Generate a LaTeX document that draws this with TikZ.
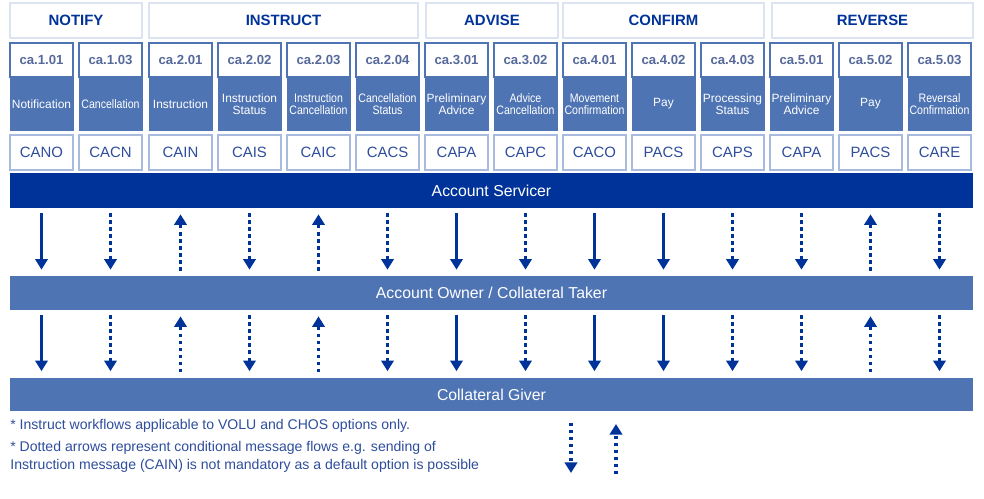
\documentclass[tikz,border=0pt]{standalone}
\usepackage{fontspec}
\setmainfont{Liberation Sans}
\newfontfamily\narrowfont[FakeStretch=0.86]{Liberation Sans}
\usetikzlibrary{positioning}
\usetikzlibrary{arrows.meta}
\definecolor{navy}{HTML}{003399}
\definecolor{midblue}{HTML}{4F74B4}
\definecolor{edgeblue}{HTML}{A8BBDF}
\definecolor{paleblue}{HTML}{DDE4F1}
\definecolor{slate}{HTML}{56699B}
\definecolor{inkblue}{HTML}{2E4D9C}
\tikzset{
    header/.style = {rectangle, draw=paleblue, line width=1pt, fill=white, minimum height=0.70cm, inner sep=0pt, text=navy, font=\fontsize{8.5}{10}\selectfont\bfseries},
    cabox/.style = {rectangle, draw=midblue, line width=0.8pt, fill=white, minimum width=1.26cm, minimum height=0.68cm, inner sep=0pt, text=slate, font=\fontsize{7.5}{9}\selectfont\bfseries},
    descbox/.style = {rectangle, draw=midblue, fill=midblue, minimum width=1.26cm, minimum height=1.04cm, inner sep=0pt, align=center, text=white, font=\fontsize{6.8}{7}\selectfont},
    narrowbox/.style = {descbox, font=\narrowfont\fontsize{7}{7}\selectfont},
    codebox/.style = {rectangle, draw=edgeblue, line width=1pt, fill=white, minimum width=1.26cm, minimum height=0.70cm, inner sep=0pt, text=inkblue, font=\fontsize{8.5}{10}\selectfont},
    bar/.style = {rectangle, minimum width=19.26cm, minimum height=0.68cm, inner sep=0pt, text=white, font=\fontsize{9}{11}\selectfont},
    flow/.style = {-{Triangle[width=7pt,length=6pt]}, line width=1.4pt, navy, shorten >=0.12cm, shorten <=0.1cm}, % mandatory
    cflow/.style = {flow, line width=1.8pt, dash pattern=on 1.8pt off 2.2pt}, % conditional
    note/.style = {anchor=west, inner sep=0pt, align=left, text=inkblue, font=\fontsize{8}{10.2}\selectfont}
}

\begin{document}
\begin{tikzpicture}[x=0.02cm, y=-0.02cm]
\useasboundingbox (0,0) rectangle (984,499);

% workflow headers
\node[header, minimum width=2.64cm] (notify)   at ( 76.0,20.5) {NOTIFY};
\node[header, minimum width=5.38cm] (instruct) at (283.5,20.5) {INSTRUCT};
\node[header, minimum width=2.64cm] (advise)   at (492.0,20.5) {ADVISE};
\node[header, minimum width=4.02cm] (confirm)  at (663.5,20.5) {CONFIRM};
\node[header, minimum width=4.02cm] (reverse)  at (872.5,20.5) {REVERSE};

% message columns
\node[cabox] (ca1) at ( 41.5,60) {ca.1.01};
\node[descbox, below=0pt of ca1] (d1) {Notification};
\node[codebox, below=0.08cm of d1] (c1) {CANO};
\node[cabox] (ca2) at (110.5,60) {ca.1.03};
\node[narrowbox, below=0pt of ca2] (d2) {Cancellation};
\node[codebox, below=0.08cm of d2] (c2) {CACN};
\node[cabox] (ca3) at (180.5,60) {ca.2.01};
\node[descbox, below=0pt of ca3] (d3) {Instruction};
\node[codebox, below=0.08cm of d3] (c3) {CAIN};
\node[cabox] (ca4) at (249.5,60) {ca.2.02};
\node[descbox, below=0pt of ca4] (d4) {Instruction\\Status};
\node[codebox, below=0.08cm of d4] (c4) {CAIS};
\node[cabox] (ca5) at (318.5,60) {ca.2.03};
\node[narrowbox, below=0pt of ca5] (d5) {Instruction\\Cancellation};
\node[codebox, below=0.08cm of d5] (c5) {CAIC};
\node[cabox] (ca6) at (387.5,60) {ca.2.04};
\node[narrowbox, below=0pt of ca6] (d6) {Cancellation\\Status};
\node[codebox, below=0.08cm of d6] (c6) {CACS};
\node[cabox] (ca7) at (456.5,60) {ca.3.01};
\node[descbox, below=0pt of ca7] (d7) {Preliminary\\Advice};
\node[codebox, below=0.08cm of d7] (c7) {CAPA};
\node[cabox] (ca8) at (525.5,60) {ca.3.02};
\node[narrowbox, below=0pt of ca8] (d8) {Advice\\Cancellation};
\node[codebox, below=0.08cm of d8] (c8) {CAPC};
\node[cabox] (ca9) at (594.5,60) {ca.4.01};
\node[narrowbox, below=0pt of ca9] (d9) {Movement\\Confirmation};
\node[codebox, below=0.08cm of d9] (c9) {CACO};
\node[cabox] (ca10) at (663.5,60) {ca.4.02};
\node[descbox, below=0pt of ca10] (d10) {Pay};
\node[codebox, below=0.08cm of d10] (c10) {PACS};
\node[cabox] (ca11) at (732.5,60) {ca.4.03};
\node[descbox, below=0pt of ca11] (d11) {Processing\\Status};
\node[codebox, below=0.08cm of d11] (c11) {CAPS};
\node[cabox] (ca12) at (801.5,60) {ca.5.01};
\node[descbox, below=0pt of ca12] (d12) {Preliminary\\Advice};
\node[codebox, below=0.08cm of d12] (c12) {CAPA};
\node[cabox] (ca13) at (870.5,60) {ca.5.02};
\node[descbox, below=0pt of ca13] (d13) {Pay};
\node[codebox, below=0.08cm of d13] (c13) {PACS};
\node[cabox] (ca14) at (939.5,60) {ca.5.03};
\node[narrowbox, below=0pt of ca14] (d14) {Reversal\\Confirmation};
\node[codebox, below=0.08cm of d14] (c14) {CARE};

% parties
\node[bar, fill=navy, minimum height=0.70cm] (srv) at (491.5,190.5) {Account Servicer};
\node[bar, fill=midblue] (own)   at (491.5,293.0) {Account Owner / Collateral Taker};
\node[bar, fill=midblue] (giver) at (491.5,394.5) {Collateral Giver};

% servicer <-> owner
\draw[flow]  (c1 |- srv.south) -- (c1 |- own.north);
\draw[cflow] (c2 |- srv.south) -- (c2 |- own.north);
\draw[cflow] (c3 |- own.north) -- (c3 |- srv.south);
\draw[cflow] (c4 |- srv.south) -- (c4 |- own.north);
\draw[cflow] (c5 |- own.north) -- (c5 |- srv.south);
\draw[cflow] (c6 |- srv.south) -- (c6 |- own.north);
\draw[flow]  (c7 |- srv.south) -- (c7 |- own.north);
\draw[cflow] (c8 |- srv.south) -- (c8 |- own.north);
\draw[flow]  (c9 |- srv.south) -- (c9 |- own.north);
\draw[flow]  (c10 |- srv.south) -- (c10 |- own.north);
\draw[cflow] (c11 |- srv.south) -- (c11 |- own.north);
\draw[cflow] (c12 |- srv.south) -- (c12 |- own.north);
\draw[cflow] (c13 |- own.north) -- (c13 |- srv.south);
\draw[cflow] (c14 |- srv.south) -- (c14 |- own.north);

% owner <-> giver
\draw[flow]  (c1 |- own.south) -- (c1 |- giver.north);
\draw[cflow] (c2 |- own.south) -- (c2 |- giver.north);
\draw[cflow] (c3 |- giver.north) -- (c3 |- own.south);
\draw[cflow] (c4 |- own.south) -- (c4 |- giver.north);
\draw[cflow] (c5 |- giver.north) -- (c5 |- own.south);
\draw[cflow] (c6 |- own.south) -- (c6 |- giver.north);
\draw[flow]  (c7 |- own.south) -- (c7 |- giver.north);
\draw[cflow] (c8 |- own.south) -- (c8 |- giver.north);
\draw[flow]  (c9 |- own.south) -- (c9 |- giver.north);
\draw[flow]  (c10 |- own.south) -- (c10 |- giver.north);
\draw[cflow] (c11 |- own.south) -- (c11 |- giver.north);
\draw[cflow] (c12 |- own.south) -- (c12 |- giver.north);
\draw[cflow] (c13 |- giver.north) -- (c13 |- own.south);
\draw[cflow] (c14 |- own.south) -- (c14 |- giver.north);

% footnotes
\node[note] (note1) at (10,426) {* Instruct workflows applicable to VOLU and CHOS options only.};
\node[note] (note2) at (10,457) {* Dotted arrows represent conditional message flows e.g. sending of\\Instruction message (CAIN) is not mandatory as a default option is possible};

% legend arrows
\coordinate (downtop) at (571,423);
\coordinate (downtip) at (571,473);
\coordinate (upbase) at (616,474);
\coordinate (uptip) at (616,424);
\draw[cflow, shorten >=0pt, shorten <=0pt] (downtop) -- (downtip);
\draw[cflow, shorten >=0pt, shorten <=0pt] (upbase) -- (uptip);
\end{tikzpicture}
\end{document}
